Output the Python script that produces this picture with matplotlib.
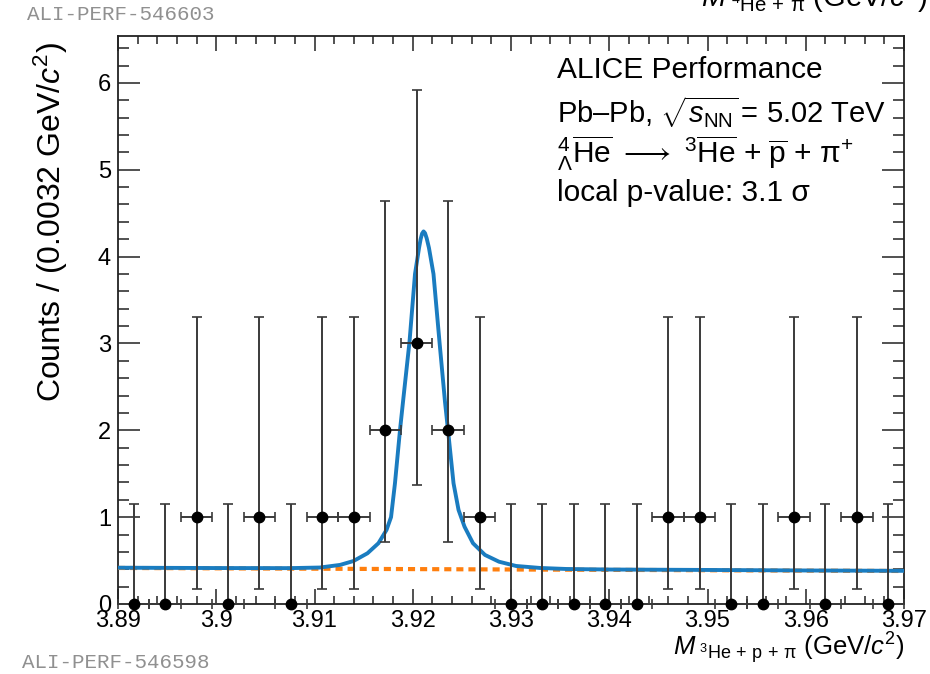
import matplotlib
matplotlib.use("Agg")
import matplotlib.pyplot as plt
from matplotlib.ticker import MultipleLocator, FixedLocator, FixedFormatter

# ---------------- data ----------------
bin_centers = [3.8916, 3.8948, 3.8980, 3.9012, 3.9044, 3.9076, 3.9108, 3.9140,
               3.9172, 3.9204, 3.9236, 3.9268, 3.9300, 3.9332, 3.9364, 3.9396,
               3.9428, 3.9460, 3.9492, 3.9524, 3.9556, 3.9588, 3.9620, 3.9652,
               3.9684]
counts = [0, 0, 1, 0, 1, 0, 1, 1, 2, 3, 2, 1, 0, 0, 0, 0, 0, 1, 1, 0, 0, 1, 0, 1, 0]
bin_half_width = 0.0016
# Poisson intervals (count -> (low, high))
interval_low = {0: 0.0, 1: 0.17, 2: 0.71, 3: 1.37}
interval_high = {0: 1.15, 1: 3.30, 2: 4.64, 3: 5.92}

# total fit curve
fit_x = [3.89000, 3.90000, 3.90750, 3.91056, 3.91260, 3.91397, 3.91539, 3.91651,
         3.91733, 3.91779, 3.91819, 3.91870, 3.91901, 3.91967, 3.92023, 3.92064,
         3.92080, 3.92095, 3.92110, 3.92125, 3.92142, 3.92165, 3.92211, 3.92272,
         3.92328, 3.92359, 3.92415, 3.92466, 3.92527, 3.92613, 3.92735, 3.92878,
         3.93051, 3.93295, 3.93567, 3.94000, 3.95000, 3.96000, 3.97000]
fit_y = [0.418, 0.414, 0.413, 0.420, 0.450, 0.495, 0.584, 0.700,
         0.853, 1.000, 1.390, 2.000, 2.330, 3.020, 3.800, 4.100,
         4.200, 4.265, 4.290, 4.270, 4.210, 4.100, 3.800, 3.020,
         2.330, 2.000, 1.390, 1.083, 0.890, 0.700, 0.565, 0.487,
         0.438, 0.415, 0.403, 0.397, 0.392, 0.386, 0.382]
# background component (dashed)
bkg_x = [3.8900, 3.9700]
bkg_y = [0.415, 0.380]

x_ticks = [3.89, 3.90, 3.91, 3.92, 3.93, 3.94, 3.95, 3.96, 3.97]
x_ticklabels = ["3.89", "3.9", "3.91", "3.92", "3.93", "3.94", "3.95", "3.96", "3.97"]
y_ticks = [0, 1, 2, 3, 4, 5, 6]
y_ticklabels = ["0", "1", "2", "3", "4", "5", "6"]

# ---------------- style ----------------
plt.rcParams['font.family'] = ['Liberation Sans', 'DejaVu Sans']
plt.rcParams['mathtext.fontset'] = 'custom'
plt.rcParams['mathtext.rm'] = 'Liberation Sans'
plt.rcParams['mathtext.it'] = 'Liberation Sans:italic'
plt.rcParams['mathtext.bf'] = 'Liberation Sans:bold'
plt.rcParams['mathtext.sf'] = 'Liberation Sans'

fig = plt.figure(figsize=(9.3, 6.74), dpi=100)
ax = fig.add_axes([118 / 930, 1 - 604 / 674, (904 - 118) / 930, (604 - 36) / 674])

# background (dashed orange) and total fit (blue)
ax.plot(bkg_x, bkg_y, color='#ff7f0e', lw=3.0, ls=(0, (1.7, 1.2)), zorder=3)
ax.plot(fit_x, fit_y, color='#1a7cc0', lw=2.8, zorder=4,
        solid_joinstyle='round', solid_capstyle='butt')

# data points with asymmetric Poisson errors
ylo = [c - interval_low[c] for c in counts]
yhi = [interval_high[c] - c for c in counts]
ax.errorbar(bin_centers, counts, yerr=[ylo, yhi], xerr=bin_half_width,
            fmt='o', color='black', ecolor='#3a3a3a', elinewidth=1.4,
            capsize=3.5, capthick=1.2, markersize=7.5, zorder=5, clip_on=False)

ax.set_xlim(3.89, 3.97)
ax.set_ylim(0, 6.54)

ax.xaxis.set_major_locator(FixedLocator(x_ticks))
ax.xaxis.set_major_formatter(FixedFormatter(x_ticklabels))
ax.xaxis.set_minor_locator(MultipleLocator(0.002))
ax.yaxis.set_major_locator(FixedLocator(y_ticks))
ax.yaxis.set_major_formatter(FixedFormatter(y_ticklabels))
ax.yaxis.set_minor_locator(MultipleLocator(0.2))

ax.tick_params(axis='both', which='both', direction='in', top=True, right=True,
               color='#222222', width=1.1)
ax.tick_params(axis='x', which='major', length=11, labelsize=17, pad=4)
ax.tick_params(axis='x', which='minor', length=6)
ax.tick_params(axis='y', which='major', length=16, labelsize=17, pad=5)
ax.tick_params(axis='y', which='minor', length=8)
for s in ax.spines.values():
    s.set_linewidth(1.3)
    s.set_color('#222222')

ax.set_ylabel(r'Counts / (0.0032 GeV/$c^{2}$)', fontsize=23, loc='top')
ax.yaxis.set_label_coords(-0.061, 0.99)
fig.text(905 / 930, 1 - 648 / 674,
         r'$M_{\ ^{3}\mathrm{He\,+\,p\,+\,π}}$ (GeV/$c^{2}$)',
         ha='right', va='center', fontsize=18.5)

# header text
tx = 557 / 930
fig.text(tx, 1 - 70 / 674, 'ALICE Performance', fontsize=21.5, va='center', ha='left')
fig.text(tx, 1 - 112 / 674, r'Pb–Pb, $\sqrt{s_{\mathrm{NN}}}\,$= 5.02 TeV',
         fontsize=21, va='center', ha='left')
fig.text(tx, 1 - 153 / 674,
         r'${}^{4}_{\Lambda}\overline{\mathrm{He}}\ \longrightarrow\ {}^{3}\overline{\mathrm{He}}$ + $\overline{\mathrm{p}}$ + π$^{+}$',
         fontsize=21.5, va='center', ha='left')
fig.text(tx, 1 - 193 / 674, 'local p-value: 3.1 σ', fontsize=21.5,
         va='center', ha='left')

# figure labels
fig.text(27 / 930, 1 - 14 / 674, 'ALI-PERF-546603', family='Liberation Mono',
         fontsize=15, color='#909090', va='center', ha='left')
fig.text(22 / 930, 1 - 662 / 674, 'ALI-PERF-546598', family='Liberation Mono',
         fontsize=15, color='#909090', va='center', ha='left')
fig.text(927 / 930, 1 - 7 / 674,
         r'$M_{\ ^{4}\mathrm{He\,+\,π}}$ (GeV/$c^{2}$)',
         ha='right', va='baseline', fontsize=21)

fig.savefig('out.png', dpi=100)
